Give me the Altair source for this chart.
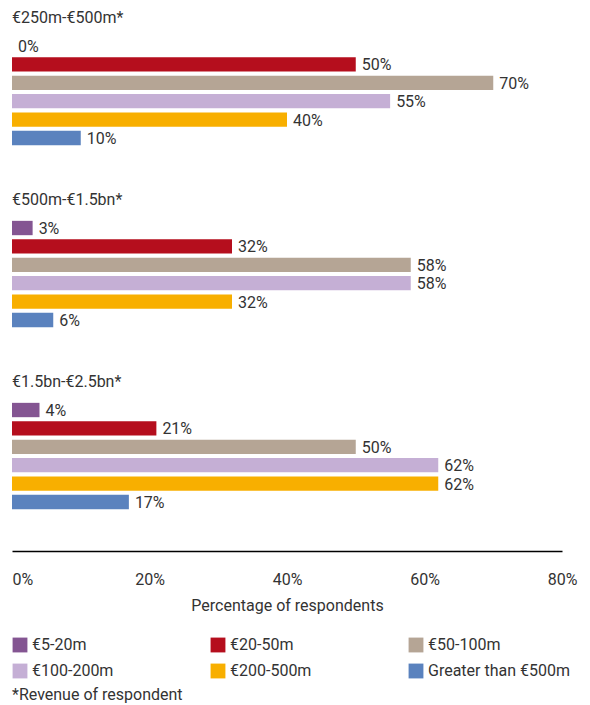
import altair as alt
import pandas as pd

groups = ["€250m-€500m*", "€500m-€1.5bn*", "€1.5bn-€2.5bn*"]
categories = ["€5-20m", "€20-50m", "€50-100m", "€100-200m", "€200-500m", "Greater than €500m"]
colors = ["#845592", "#B50E1D", "#B5A595", "#C5AFD5", "#F8AF00", "#5A82BE"]
g1 = [0, 50, 70, 55, 40, 10]
g2 = [3, 32, 58, 58, 32, 6]
g3 = [4, 21, 50, 62, 62, 17]
ticks = [0, 20, 40, 60, 80]

rows = []
for g, vals in zip(groups, [g1, g2, g3]):
    for c, v in zip(categories, vals):
        rows.append({"group": g, "category": c, "value": v})
df = pd.DataFrame(rows)

FONT = "Roboto"
TXT = "#333333"

base = alt.Chart().encode(
    y=alt.Y("category:N", sort=categories, axis=None,
            scale=alt.Scale(paddingInner=0.22, paddingOuter=0.1)),
)
bars = base.mark_bar().encode(
    x=alt.X("value:Q", scale=alt.Scale(domain=[0, 80]),
            axis=alt.Axis(values=ticks, labelExpr="datum.value + '%'", grid=False, ticks=False,
                          domain=True, domainColor="#000000", domainWidth=1.5, offset=40,
                          labelPadding=20, labelFontSize=16, labelFont=FONT, labelColor=TXT,
                          labelAlign={"expr": "datum.value === 0 ? 'left' : 'center'"},
                          title="Percentage of respondents", titleFontSize=16, titleFont=FONT,
                          titleFontWeight="normal", titleColor=TXT, titlePadding=10)),
    color=alt.Color("category:N", sort=categories,
                    scale=alt.Scale(domain=categories, range=colors),
                    legend=alt.Legend(title=None, orient="bottom", columns=3, direction="horizontal",
                                      symbolType="square", symbolSize=220, symbolStrokeWidth=0,
                                      labelFontSize=16, labelFont=FONT, labelColor=TXT,
                                      gridAlign="all", columnPadding=35, rowPadding=10,
                                      offset=24, labelLimit=300)),
)
labels = base.mark_text(align="left", baseline="middle", dx=6, dy=1, fontSize=16, font=FONT,
                        color=TXT).encode(
    x=alt.X("value:Q"),
    text=alt.Text("label:N"),
)

layer = alt.layer(bars, labels, data=df).transform_calculate(
    label="datum.value + '%'"
).properties(width=550, height=110)

chart = layer.facet(
    row=alt.Row("group:N", sort=groups,
                header=alt.Header(title=None, labelOrient="top", labelAnchor="start",
                                  labelAngle=0, labelAlign="left", labelFontSize=16,
                                  labelFont=FONT, labelColor=TXT, labelPadding=-5)),
    spacing=45,
).properties(
    title=alt.Title("*Revenue of respondent", orient="bottom", anchor="start",
                    fontSize=16, font=FONT, fontWeight="normal", color=TXT, offset=8),
    padding={"left": 4, "top": 2, "right": 4, "bottom": 0},
).configure_view(stroke=None)

chart.save("out.html", embed_options={"renderer": "svg", "actions": False})
